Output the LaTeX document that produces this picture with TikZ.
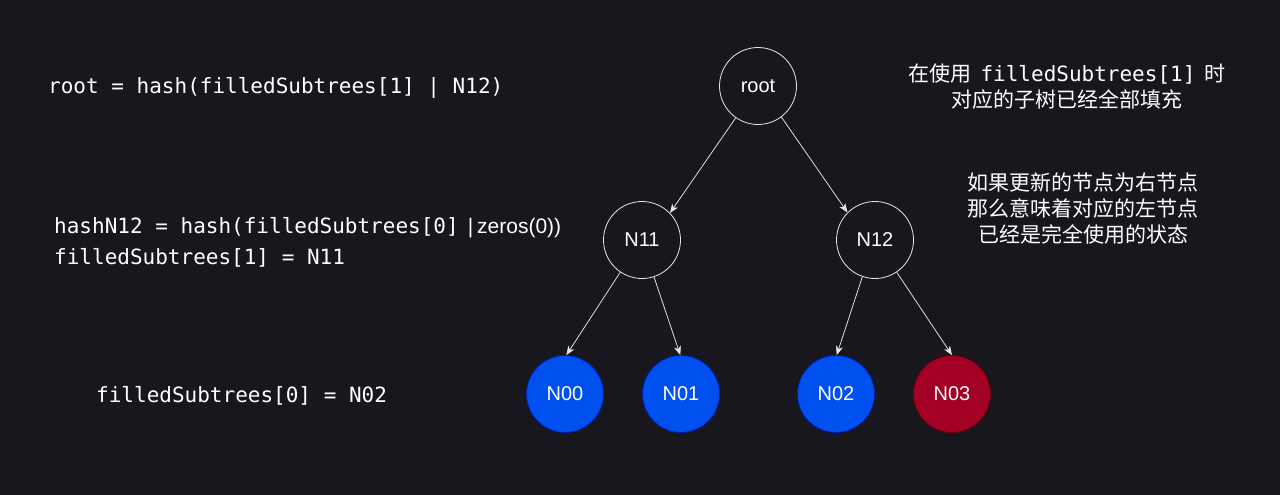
\documentclass[tikz,border=0pt]{standalone}
\usepackage{fontspec}
\setmainfont{Liberation Sans}
\newfontfamily\cjk{Noto Sans CJK SC}
\newfontfamily\monof{DejaVu Sans Mono}
\usetikzlibrary{arrows.meta}
\definecolor{bg}{HTML}{18171E}
\definecolor{blueN}{HTML}{0050EF}
\definecolor{blueS}{HTML}{001DBC}
\definecolor{redN}{HTML}{A20025}
\definecolor{redS}{HTML}{6F0000}
\definecolor{edge}{HTML}{E6E6E6}
\tikzset{
  tnode/.style={circle, minimum size=77pt, inner sep=0pt, line width=0.8pt, text=white,
    font=\fontsize{20}{24}\selectfont},
  plain/.style={tnode, draw=edge},
  bluenode/.style={tnode, fill=blueN, draw=blueS},
  rednode/.style={tnode, fill=redN, draw=redS},
  arr/.style={draw=edge, line width=0.75pt, -{Stealth[length=9pt,width=7pt,inset=2.5pt]}},
  code/.style={text=white, inner sep=0pt, anchor=west, font=\monof\fontsize{21}{31}\selectfont, align=left},
  note/.style={text=white, inner sep=0pt, align=center, font=\cjk\fontsize{21}{26}\selectfont}
}
\begin{document}
\begin{tikzpicture}[x=1pt,y=-1pt]
\fill[bg] (0,0) rectangle (1280,495);
\useasboundingbox (0,0) rectangle (1280,495);

\node[plain] (root) at (758,86) {root};
\node[plain] (N11) at (642,240) {N11};
\node[plain] (N12) at (875,240) {N12};
\node[bluenode] (N00) at (565,394) {N00};
\node[bluenode] (N01) at (681,394) {N01};
\node[bluenode] (N02) at (836,394) {N02};
\node[rednode] (N03) at (952,394) {N03};

\draw[arr] (root.235) -- (N11.44);
\draw[arr] (root.307) -- (N12.135);
\draw[arr] (N11.236) -- (N00.88);
\draw[arr] (N11.288) -- (N01.91);
\draw[arr] (N12.251) -- (N02.89);
\draw[arr] (N12.304) -- (N03.90);

\node[code] (t1) at (48,88) {root = hash(filledSubtrees[1] | N12)};
\node[code] (t2) at (54,242) {hashN12 = hash(filledSubtrees[0]{\rmfamily\fontsize{21}{31}\selectfont\hspace{9pt}|\hspace{4pt}zeros(0))}\\filledSubtrees[1] = N11};
\node[code] (t3) at (96,396) {filledSubtrees[0] = N02};

\node[note] (c1) at (1067,87) {在使用\hspace{0.45em}{\monof filledSubtrees[1]}\hspace{0.45em}时\\对应的子树已经全部填充};
\node[note] (c2) at (1083,209) {如果更新的节点为右节点\\那么意味着对应的左节点\\已经是完全使用的状态};
\end{tikzpicture}
\end{document}
